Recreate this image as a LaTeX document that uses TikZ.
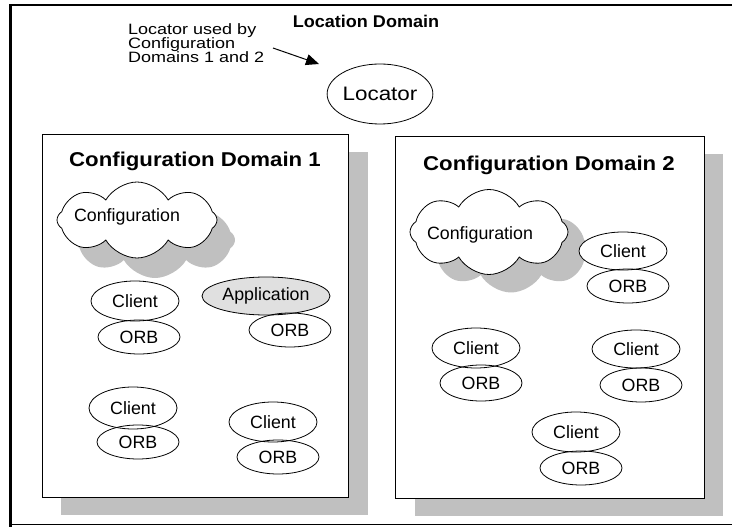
\documentclass[tikz,border=0pt]{standalone}
\usepackage{fontspec}
\setmainfont{Liberation Sans}
\usepackage{graphicx}
\usetikzlibrary{shapes.geometric,shapes.symbols,arrows.meta}
\newcommand{\sx}[2]{\scalebox{#1}[1]{#2}}
\definecolor{shade}{RGB}{192,192,192}
\definecolor{appfill}{RGB}{224,224,224}
\begin{document}
\begin{tikzpicture}[x=1pt,y=-1pt,
  frame/.style={line width=2.5pt, black},
  domainbox/.style={draw=black, line width=1pt, fill=white},
  shadowbox/.style={fill=shade, draw=none},
  ctitle/.style={anchor=base, inner sep=0pt, font=\bfseries\fontsize{20}{22}\selectfont},
  small/.style={font=\fontsize{17.8}{20}\selectfont},
  client/.style={ellipse, draw, line width=0.8pt, fill=white, inner sep=0pt, minimum width=88pt, minimum height=40pt, small},
  orb/.style={ellipse, draw, line width=0.8pt, inner sep=0pt, minimum width=82pt, minimum height=34pt, small},
  cloudshape/.style={cloud, cloud puffs=8, cloud puff arc=120, cloud ignores aspect, inner sep=0pt},
  cloudshadow/.style={cloudshape, fill=shade, draw=none},
  cloudfront/.style={cloudshape, draw, line width=0.8pt, fill=white},
]
\useasboundingbox (0,0) rectangle (732,527);
% outer Location Domain frame
\draw[frame] (732,5) -- (10.5,5) -- (10.5,527);
\draw[shade, line width=1pt] (10,524.5) -- (732,524.5);
\node[anchor=base, inner sep=0pt, font=\bfseries\fontsize{17}{19}\selectfont] (loctitle) at (366,28) {\sx{1.06}{Location Domain}};

% note and locator
\node[anchor=base west, inner sep=0pt, align=left, font=\fontsize{15}{14}\selectfont] (note) at (128,63)
  {\sx{1.2}{Locator used by}\\ \sx{1.2}{Configuration}\\ \sx{1.2}{Domains 1 and 2}};
\node[ellipse, draw, line width=0.8pt, inner sep=0pt, minimum width=94pt, minimum height=60pt, font=\fontsize{19.5}{22}\selectfont] (locator) at (380,94) {\sx{1.15}{Locator}};
\coordinate (arrtail) at (273,48);
\coordinate (arrhead) at (319,64);
\draw[line width=1pt, -{Triangle[length=13pt,width=11pt]}] (arrtail) -- (arrhead);

% Configuration Domain 1
\fill[shadowbox] (61,152) rectangle (368,515);
\draw[domainbox] (42,135) rectangle (348,497);
\node[ctitle] (d1title) at (195,166) {\sx{1.11}{Configuration Domain 1}};
\node[cloudshadow, minimum width=160pt, minimum height=76pt] (cl1s) at (155,240) {};
\node[cloudfront, minimum width=160pt, minimum height=76pt] (cl1) at (137,220) {};
\node[small, inner sep=0pt] (cl1t) at (127,217) {Configuration};

\node[client] (c11) at (135,301) {Client};
\node[orb] (o11) at (139,337) {ORB};
\node[client, fill=appfill, minimum width=128pt, minimum height=38pt] (app) at (266,296) {Application};
\node[orb] (o12) at (290,330) {ORB};
\node[client, minimum height=42pt] (c13) at (133,408) {Client};
\node[orb] (o13) at (138,442) {ORB};
\node[client] (c14) at (273,422) {Client};
\node[orb] (o14) at (278,457) {ORB};

% Configuration Domain 2
\fill[shadowbox] (415,154) rectangle (723,516);
\draw[domainbox] (395,137) rectangle (704,498);
\node[ctitle] (d2title) at (549,170) {\sx{1.11}{Configuration Domain 2}};
\node[cloudshadow, minimum width=158pt, minimum height=85pt] (cl2s) at (511,250) {};
\node[cloudfront, minimum width=158pt, minimum height=85pt] (cl2) at (489,232) {};
\node[small, inner sep=0pt] (cl2t) at (480,235) {Configuration};

\node[client, minimum height=38pt] (c21) at (623,251) {Client};
\node[orb] (o21) at (628,286) {ORB};
\node[client] (c22) at (476,348) {Client};
\node[orb, minimum height=36pt] (o22) at (481,383) {ORB};
\node[client, minimum height=38pt] (c23) at (636,349) {Client};
\node[orb] (o23) at (641,385) {ORB};
\node[client] (c24) at (576,432) {Client};
\node[orb] (o24) at (581,468) {ORB};
\end{tikzpicture}
\end{document}
